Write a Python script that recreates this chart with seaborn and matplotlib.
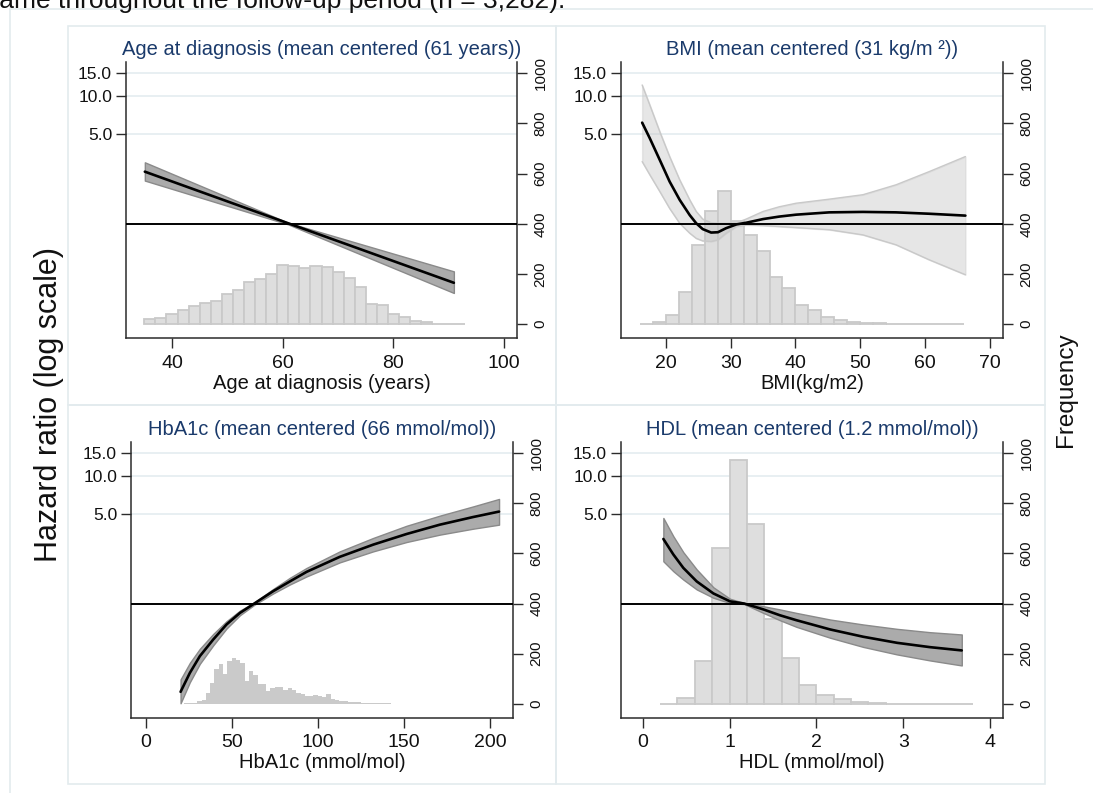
import numpy as np
import pandas as pd
import matplotlib
matplotlib.use("Agg")
import matplotlib.pyplot as plt
import matplotlib.transforms as mtransforms
from matplotlib.patches import Rectangle
import seaborn as sns

# ---------------- data ----------------
# Age at diagnosis
AGE_X = [35.1, 61.0, 90.9]
AGE_HR = [2.56, 1.01, 0.346]
AGE_LO = [2.18, 0.99, 0.288]
AGE_HI = [3.03, 1.02, 0.425]
AGE_BIN_START, AGE_BIN_W = 35, 2
AGE_COUNTS = [19, 23, 39, 56, 71, 83, 93, 120, 135, 168, 180, 199, 235, 231, 223,
              231, 228, 207, 183, 149, 81, 75, 39, 29, 11, 7, 2, 1, 1]

# BMI
BMI_X = [16.36, 17.54, 19.08, 20.6, 22.15, 23.7, 24.7, 25.7, 27.0, 28.05, 29.3,
         30.9, 32.4, 35.0, 37.5, 40.1, 45.2, 50.4, 55.5, 60.6, 66.2]
BMI_HR = [6.19, 4.67, 3.16, 2.14, 1.54, 1.17, 1.01, 0.91, 0.855, 0.86, 0.925,
          0.99, 1.02, 1.09, 1.14, 1.18, 1.23, 1.24, 1.23, 1.20, 1.16]
BMI_HI = [12.2, 8.51, 5.26, 3.36, 2.21, 1.54, 1.25, 1.09, 1.02, 1.01, 1.01,
          1.02, 1.09, 1.25, 1.36, 1.45, 1.56, 1.69, 2.02, 2.56, 3.36]
BMI_LO = [3.07, 2.42, 1.79, 1.32, 1.01, 0.845, 0.77, 0.736, 0.728, 0.75, 0.845,
          0.953, 0.98, 0.97, 0.953, 0.935, 0.90, 0.82, 0.686, 0.524, 0.40]
BMI_BIN_START, BMI_BIN_W = 16, 2
BMI_COUNTS = [2, 9, 36, 129, 315, 452, 530, 412, 355, 292, 189, 145, 78, 58, 27,
              16, 9, 4, 3, 1, 1, 1, 0.5, 0.5, 1]

# HbA1c
HBA_X = [20.3, 25.7, 31.5, 39.3, 47.0, 54.8, 63.1, 74.1, 83.8, 93.5, 112.8,
         132.2, 151.6, 170.9, 190.2, 205.3]
HBA_HR = [0.204, 0.287, 0.388, 0.524, 0.686, 0.845, 1.0, 1.25, 1.49, 1.77, 2.32,
          2.89, 3.50, 4.14, 4.75, 5.24]
HBA_HI = [0.255, 0.344, 0.443, 0.579, 0.728, 0.881, 1.02, 1.30, 1.59, 1.90, 2.56,
          3.26, 4.06, 4.87, 5.75, 6.58]
HBA_LO = [0.166, 0.243, 0.338, 0.472, 0.638, 0.811, 0.977, 1.20, 1.41, 1.63, 2.10,
          2.56, 3.03, 3.46, 3.85, 4.14]
HBA_BIN_START, HBA_BIN_W = 20, 2.5
HBA_COUNTS = [1, 2, 3, 5, 10, 15, 45, 85, 140, 160, 120, 170, 183, 176, 163, 90,
              130, 115, 80, 78, 50, 62, 68, 66, 56, 62, 55, 45, 40, 33, 32, 34,
              30, 28, 40, 18, 14, 12, 10, 8, 7, 6, 5, 4, 3, 3, 2, 2, 2, 1.5, 1.5,
              1, 1, 1, 1, 1, 0.5, 0.5, 0.5, 0.5, 0.5, 0.5, 0.5, 0.5, 0.5, 0.5,
              0.5, 0.5, 0.5, 0.5, 0.5, 0.5, 0.5, 0.5]

# HDL
HDL_X = [0.238, 0.353, 0.468, 0.622, 0.814, 1.006, 1.17, 1.39, 1.58, 1.77, 2.16,
         2.54, 2.93, 3.31, 3.675]
HDL_HR = [3.20, 2.42, 1.90, 1.49, 1.20, 1.04, 1.0, 0.90, 0.81, 0.741, 0.627,
          0.550, 0.493, 0.456, 0.430]
HDL_HI = [4.67, 3.36, 2.52, 1.85, 1.34, 1.09, 1.01, 0.953, 0.90, 0.845, 0.75,
          0.686, 0.634, 0.597, 0.573]
HDL_LO = [2.14, 1.79, 1.54, 1.29, 1.11, 1.01, 0.99, 0.845, 0.741, 0.658, 0.54,
          0.458, 0.40, 0.359, 0.328]
HDL_BIN_START, HDL_BIN_W = 0.2, 0.2
HDL_COUNTS = [1, 24, 172, 621, 972, 717, 338, 183, 77, 34, 20, 8, 3, 1, 0.5, 0,
              0.5, 0.5]

TITLES = ["Age at diagnosis (mean centered (61 years))",
          "BMI (mean centered (31 kg/m \u00b2))",
          "HbA1c (mean centered (66 mmol/mol))",
          "HDL (mean centered (1.2 mmol/mol))"]
XLABELS = ["Age at diagnosis (years)", "BMI(kg/m2)", "HbA1c (mmol/mol)",
           "HDL (mmol/mol)"]
XTICKS = [[40, 60, 80, 100], [20, 30, 40, 50, 60, 70], [0, 50, 100, 150, 200],
          [0, 1, 2, 3, 4]]
HR_TICKS = [5.0, 10.0, 15.0]
FREQ_TICKS = [0, 200, 400, 600, 800, 1000]

# ---------------- style ----------------
sns.set_theme(style="white")
plt.rcParams['font.family'] = ['Liberation Sans', 'DejaVu Sans']

W, H = 1093, 793
fig = plt.figure(figsize=(W / 100, H / 100), dpi=100)
fig.patch.set_facecolor("white")


def rect(l, r, t, b):
    return [l / W, 1 - b / H, (r - l) / W, (b - t) / H]


FRAME = "#e3ebee"
GRID = "#e6eef1"
TITLE_C = "#1a3a6b"
AXC = "#2b2b2b"

# frames (outer graph region and combined panel regions)
for (l, t, r, b) in [(10, 9, 1100, 800), (68, 26, 556, 405), (556, 26, 1045, 405),
                     (68, 405, 556, 784), (556, 405, 1045, 784)]:
    fig.add_artist(Rectangle((l / W, 1 - b / H), (r - l) / W, (b - t) / H,
                             transform=fig.transFigure, fill=False,
                             edgecolor=FRAME, linewidth=1.2))

panels = [
    dict(pos=rect(126, 517, 62, 338), xlim=(31.7, 102.3), x=AGE_X, hr=AGE_HR,
         lo=AGE_LO, hi=AGE_HI, start=AGE_BIN_START, w=AGE_BIN_W, counts=AGE_COUNTS,
         band="#ababab", bedge="#8a8a8a", balpha=1.0, hfc="#dedede", hec="#c9c9c9"),
    dict(pos=rect(621, 1003, 62, 338), xlim=(13.1, 72.0), x=BMI_X, hr=BMI_HR,
         lo=BMI_LO, hi=BMI_HI, start=BMI_BIN_START, w=BMI_BIN_W, counts=BMI_COUNTS,
         band="#c4c4c4", bedge="#c9c9c9", balpha=0.42, hfc="#dedede", hec="#c9c9c9"),
    dict(pos=rect(131, 513, 441.7, 717.7), xlim=(-8.5, 213.4), x=HBA_X, hr=HBA_HR,
         lo=HBA_LO, hi=HBA_HI, start=HBA_BIN_START, w=HBA_BIN_W, counts=HBA_COUNTS,
         band="#ababab", bedge="#8a8a8a", balpha=1.0, hfc="#cacaca", hec=None),
    dict(pos=rect(621, 1003, 441.7, 717.7), xlim=(-0.25, 4.15), x=HDL_X, hr=HDL_HR,
         lo=HDL_LO, hi=HDL_HI, start=HDL_BIN_START, w=HDL_BIN_W, counts=HDL_COUNTS,
         band="#ababab", bedge="#8a8a8a", balpha=1.0, hfc="#dedede", hec="#c9c9c9"),
]

for i, p in enumerate(panels):
    axh = fig.add_axes(p["pos"])          # histogram (frequency, right axis)
    axc = axh.twinx()                     # curves (hazard ratio, left log axis)
    axh.yaxis.tick_right()
    axh.yaxis.set_label_position("right")
    axc.yaxis.tick_left()
    axc.yaxis.set_label_position("left")
    axh.set_facecolor("white")

    # histogram
    counts = [float(c) for c in p["counts"]]
    edges = [p["start"] + p["w"] * k for k in range(len(counts) + 1)]
    centers = [(edges[k] + edges[k + 1]) / 2 for k in range(len(counts))]
    hist_df = pd.DataFrame({"val": centers, "freq": counts})
    kw = dict(color=p["hfc"], alpha=1.0)
    if p["hec"] is None:
        kw.update(edgecolor=p["hfc"], linewidth=0.0)
    else:
        kw.update(edgecolor=p["hec"], linewidth=1.3)
    sns.histplot(data=hist_df, x="val", weights="freq", bins=edges, ax=axh,
                 stat="count", **kw)
    axh.set_ylim(-55, 1045)
    axh.set_xlim(*p["xlim"])

    # curves on log scale
    axc.set_yscale("log")
    axc.set_ylim(0.128, 18.45)
    axc.set_xlim(*p["xlim"])

    # gridlines drawn beneath the histogram (on axh, in HR coordinates)
    trans = mtransforms.blended_transform_factory(axh.transAxes, axc.transData)
    for v in HR_TICKS:
        axh.plot([0, 1], [v, v], transform=trans, color=GRID, lw=1.3, zorder=0.5)

    axc.fill_between(p["x"], p["lo"], p["hi"], facecolor=p["band"],
                     edgecolor=p["bedge"], alpha=p["balpha"], linewidth=1.0, zorder=2)
    if p["balpha"] < 1:
        axc.plot(p["x"], p["lo"], color=p["bedge"], lw=1.0, zorder=2)
        axc.plot(p["x"], p["hi"], color=p["bedge"], lw=1.0, zorder=2)
    sns.lineplot(x=p["x"], y=p["hr"], ax=axc, color="black", lw=1.9,
                 sort=False, estimator=None, zorder=4)
    axc.axhline(1.0, color="black", lw=1.4, zorder=5)

    # ticks / labels
    axc.yaxis.set_major_locator(matplotlib.ticker.FixedLocator(HR_TICKS))
    axc.yaxis.set_minor_locator(matplotlib.ticker.NullLocator())
    axc.yaxis.set_major_formatter(matplotlib.ticker.FixedFormatter(
        ["%.1f" % v for v in HR_TICKS]))
    axc.tick_params(axis="y", which="major", direction="out", length=7, width=1.0,
                    color=AXC, labelsize=12.5, pad=3, labelcolor="#111111",
                    left=True, right=False)
    axh.set_yticks(FREQ_TICKS)
    axh.set_yticklabels([str(v) for v in FREQ_TICKS], rotation=90, va="center")
    axh.tick_params(axis="y", direction="out", length=7, width=1.0, color=AXC,
                    labelsize=11, pad=5, labelcolor="#111111", right=True,
                    left=False)
    axh.set_xticks(XTICKS[i])
    axh.set_xticklabels([str(v) for v in XTICKS[i]])
    axh.tick_params(axis="x", direction="out", length=7, width=1.0, color=AXC,
                    labelsize=14, pad=5, labelcolor="#111111", bottom=True)
    axh.set_xlabel(XLABELS[i], fontsize=14.5, labelpad=1.5, color="#111111")
    axh.set_ylabel("")
    axc.set_ylabel("")
    axc.set_title(TITLES[i], fontsize=14.5, color=TITLE_C, pad=5)

    for ax in (axh, axc):
        for s in ax.spines.values():
            s.set_visible(False)
    for s in ("left", "bottom", "right"):
        axc.spines[s].set_visible(True)
        axc.spines[s].set_color(AXC)
        axc.spines[s].set_linewidth(1.1)
    axh.grid(False)
    axc.grid(False)

# shared outer labels
fig.text(49 / W, 1 - 404 / H, "Hazard ratio (log scale)", rotation=90,
         ha="center", va="center", fontsize=22, color="#111111")
fig.text(1066 / W, 1 - 390 / H, "Frequency", rotation=90, ha="center",
         va="center", fontsize=17.5, color="#111111")
# clipped text from the source page
fig.text(-14 / W, 1 - 8 / H, "same throughout the follow-up period (n = 3,282).",
         ha="left", va="baseline", fontsize=19, color="#111111")

fig.savefig("out.png", dpi=100)
